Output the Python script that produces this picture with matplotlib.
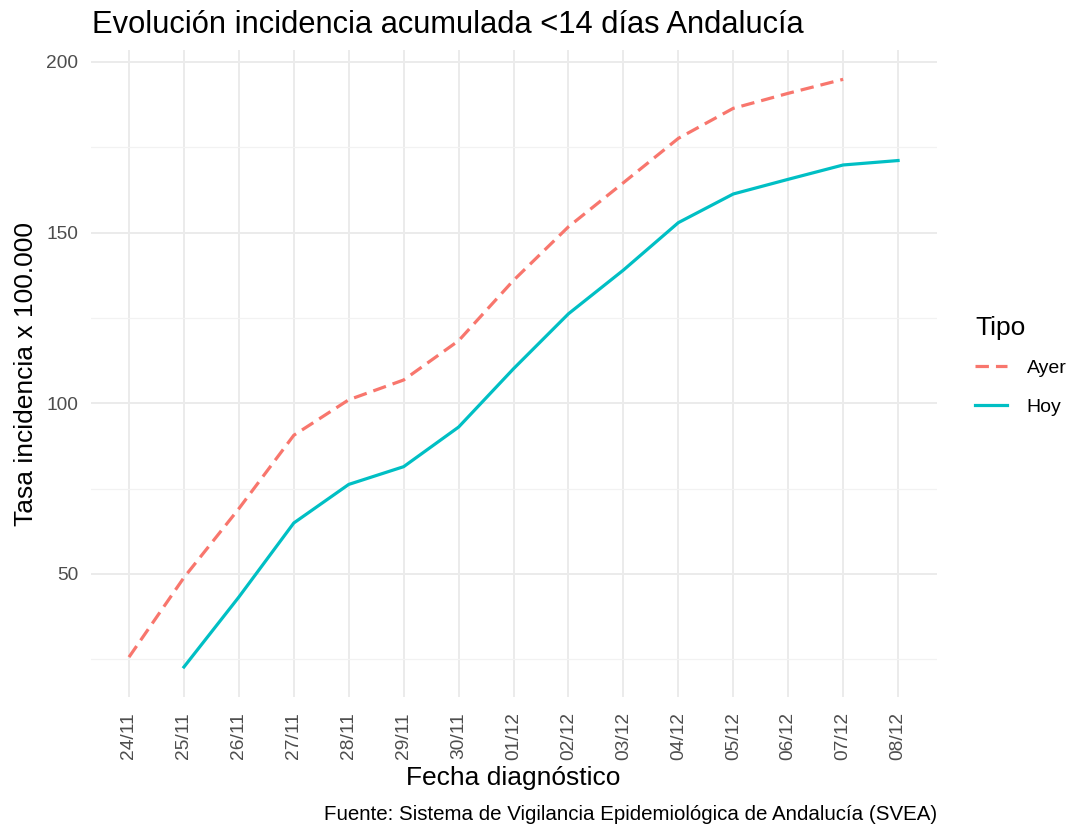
import matplotlib.pyplot as plt
from matplotlib.ticker import FixedLocator

plt.rcParams['font.family'] = ['Liberation Sans', 'DejaVu Sans']

fechas = ['24/11', '25/11', '26/11', '27/11', '28/11', '29/11', '30/11',
          '01/12', '02/12', '03/12', '04/12', '05/12', '06/12', '07/12', '08/12']
ayer = [25.6, 48.9, 69.1, 90.6, 101.0, 106.8, 118.3, 136.0, 151.7, 164.6,
        177.6, 186.4, 190.8, 194.9]
hoy = [22.7, 43.2, 64.9, 76.2, 81.4, 93.0, 110.1, 126.2, 139.0, 152.9,
       161.3, 165.6, 169.8, 171.1]

x = list(range(len(fechas)))

fig = plt.figure(figsize=(10.74, 8.30), dpi=100)
ax = fig.add_axes([0.0843, 0.1602, 0.7877, 0.7796])

ax.plot(x[:len(ayer)], ayer, color='#F8766D', lw=2.3, dashes=(4.2, 2.2), label='Ayer')
ax.plot(x[1:], hoy, color='#00BFC4', lw=2.3, label='Hoy')

ax.set_xlim(-0.7, 14.7)
ax.set_ylim(13.9, 203.5)
ax.set_xticks(x)
ax.set_xticklabels(fechas, rotation=90, color='#4D4D4D', fontsize=13.8)
ax.set_yticks([50, 100, 150, 200])
ax.yaxis.set_minor_locator(FixedLocator([25, 75, 125, 175]))
ax.tick_params(axis='x', length=0, pad=11)
ax.tick_params(axis='y', length=0, pad=9, labelsize=13.8, labelcolor='#4D4D4D')
ax.tick_params(which='minor', length=0)

ax.grid(True, which='major', color='#EBEBEB', lw=1.4)
ax.grid(True, which='minor', axis='y', color='#F2F2F2', lw=0.9)
ax.set_axisbelow(True)
for s in ax.spines.values():
    s.set_visible(False)

ax.set_xlabel('Fecha diagnóstico', fontsize=19, labelpad=4)
ax.set_ylabel('Tasa incidencia x 100.000', fontsize=19, labelpad=6)
fig.text(0.0857, 0.988, 'Evolución incidencia acumulada <14 días Andalucía',
         fontsize=22.2, ha='left', va='top')
fig.text(0.8725, 0.007, 'Fuente: Sistema de Vigilancia Epidemiológica de Andalucía (SVEA)',
         fontsize=14.8, ha='right', va='bottom')

leg = ax.legend(title='Tipo', loc='upper left', bbox_to_anchor=(0.908, 0.619),
                bbox_transform=fig.transFigure, frameon=False, fontsize=14,
                title_fontsize=19, handlelength=1.65, handletextpad=1.0,
                labelspacing=1.1, borderpad=0, borderaxespad=0)
leg._legend_box.align = 'left'
leg._legend_box.sep = 14

fig.savefig('out.png', dpi=100)
